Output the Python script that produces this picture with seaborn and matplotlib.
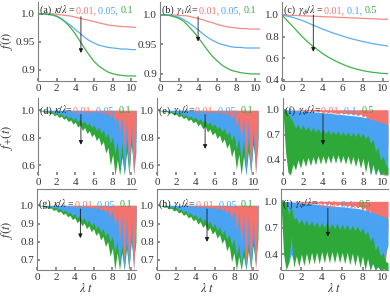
import numpy as np
import pandas as pd
import matplotlib
matplotlib.use('Agg')
import matplotlib.pyplot as plt
import matplotlib.transforms as mtransforms
import seaborn as sns

# ── Style ─────────────────────────────────────────────────────────────────────
sns.set_theme(style='ticks')
plt.rcParams.update({
    'font.family': ['Liberation Serif', 'DejaVu Serif'],
    'mathtext.fontset': 'stix',
    'axes.edgecolor': '#808080',
    'axes.linewidth': 0.8,
    'xtick.color': '#808080',
    'ytick.color': '#808080',
    'xtick.labelcolor': '#333333',
    'ytick.labelcolor': '#333333',
    'xtick.direction': 'in',
    'ytick.direction': 'in',
    'xtick.major.size': 2,
    'ytick.major.size': 2,
    'xtick.labelsize': 8,
    'ytick.labelsize': 8,
})

RED, BLUE, GREEN = '#F4736E', '#4AA3F2', '#2FA83A'
LRED, LBLUE, LGREEN = '#F48A85', '#5CADF5', '#3DB34A'

# ── Top row: smooth fidelity curves (t step 0.5) ─────────────────────────────
t_smooth = [0, 0.5, 1, 1.5, 2, 2.5, 3, 3.5, 4, 4.5, 5, 5.5, 6, 6.5, 7, 7.5,
            8, 8.5, 9, 9.5, 10, 10.5]

a_red = [1.0, 1.0, 1.0, 1.0, 0.999, 0.998, 0.997, 0.996, 0.994, 0.992, 0.990,
         0.988, 0.986, 0.984, 0.982, 0.980, 0.979, 0.978, 0.977, 0.977, 0.976, 0.976]
a_blue = [1.0, 1.0, 0.999, 0.998, 0.995, 0.991, 0.985, 0.979, 0.972, 0.965, 0.958,
          0.952, 0.948, 0.944, 0.942, 0.940, 0.939, 0.938, 0.937, 0.937, 0.936, 0.936]
a_green = [1.0, 1.0, 0.999, 0.998, 0.996, 0.991, 0.984, 0.975, 0.964, 0.951, 0.938,
           0.926, 0.915, 0.907, 0.901, 0.896, 0.893, 0.891, 0.890, 0.889, 0.889, 0.889]

b_red = [1.0, 1.0, 1.0, 1.0, 0.999, 0.999, 0.998, 0.996, 0.994, 0.992, 0.989,
         0.987, 0.984, 0.982, 0.980, 0.979, 0.978, 0.977, 0.977, 0.976, 0.976, 0.976]
b_blue = [1.0, 1.0, 1.0, 0.998, 0.996, 0.992, 0.987, 0.981, 0.975, 0.968, 0.962,
          0.957, 0.953, 0.950, 0.948, 0.946, 0.945, 0.945, 0.944, 0.944, 0.944, 0.944]
b_green = [1.0, 1.0, 0.999, 0.997, 0.994, 0.989, 0.981, 0.972, 0.962, 0.951, 0.940,
           0.930, 0.922, 0.915, 0.910, 0.906, 0.904, 0.902, 0.901, 0.900, 0.900, 0.900]

c_red = [1.0, 0.999, 0.997, 0.995, 0.993, 0.991, 0.989, 0.987, 0.985, 0.983, 0.981,
         0.979, 0.977, 0.975, 0.973, 0.971, 0.969, 0.967, 0.965, 0.963, 0.961, 0.960]
c_blue = [1.0, 0.99, 0.98, 0.965, 0.95, 0.93, 0.91, 0.89, 0.87, 0.853, 0.835,
          0.82, 0.805, 0.79, 0.778, 0.766, 0.755, 0.745, 0.735, 0.727, 0.72, 0.713]
c_green = [1.0, 0.95, 0.9, 0.85, 0.8, 0.755, 0.715, 0.68, 0.645, 0.615, 0.59,
           0.565, 0.545, 0.525, 0.51, 0.497, 0.486, 0.477, 0.47, 0.465, 0.46, 0.457]

# ── Oscillating rows: lower envelopes (t step 0.25) ──────────────────────────
t_fill = np.arange(43) * 0.25

d_red = [1.0, 1.0, 1.0, 1.0, 1.0, 0.999, 1.0, 0.999, 1.0,
         0.998, 1.0, 0.998, 0.999, 0.997, 0.999, 0.996, 0.998,
         0.995, 0.998, 0.993, 0.997, 0.991, 0.995, 0.988, 0.993,
         0.984, 0.99, 0.978, 0.986, 0.97, 0.982, 0.955, 0.975,
         0.92, 0.96, 0.84, 0.95, 0.72, 0.93, 0.53, 0.92,
         0.53, 0.9]
d_blue = [1.0, 1.0, 0.998, 0.995, 0.997, 0.988, 0.993, 0.978, 0.986,
          0.968, 0.978, 0.955, 0.967, 0.944, 0.957, 0.932, 0.946,
          0.92, 0.935, 0.907, 0.922, 0.893, 0.908, 0.875, 0.893,
          0.856, 0.876, 0.835, 0.857, 0.805, 0.835, 0.76, 0.81,
          0.68, 0.78, 0.58, 0.77, 0.53, 0.8, 0.53, 0.82,
          0.53, 0.7]
d_green = [1.0, 0.995, 0.995, 0.985, 0.99, 0.975, 0.98, 0.962, 0.97,
           0.948, 0.958, 0.935, 0.945, 0.918, 0.93, 0.9, 0.915,
           0.878, 0.895, 0.855, 0.875, 0.832, 0.852, 0.808, 0.83,
           0.78, 0.805, 0.745, 0.775, 0.69, 0.73, 0.6, 0.68,
           0.53, 0.64, 0.53, 0.66, 0.53, 0.7, 0.53, 0.75,
           0.6, 0.8]

e_red = [1.0, 1.0, 1.0, 1.0, 1.0, 0.999, 1.0, 0.999, 1.0,
         0.998, 1.0, 0.998, 0.999, 0.997, 0.999, 0.996, 0.998,
         0.995, 0.998, 0.993, 0.997, 0.99, 0.995, 0.987, 0.993,
         0.982, 0.99, 0.975, 0.986, 0.965, 0.98, 0.94, 0.975,
         0.88, 0.96, 0.78, 0.95, 0.65, 0.94, 0.53, 0.92,
         0.53, 0.9]
e_blue = [1.0, 1.0, 0.998, 0.996, 0.998, 0.99, 0.994, 0.981, 0.988,
          0.971, 0.98, 0.96, 0.97, 0.949, 0.96, 0.937, 0.95,
          0.925, 0.94, 0.913, 0.928, 0.9, 0.915, 0.885, 0.9,
          0.867, 0.885, 0.847, 0.868, 0.82, 0.848, 0.78, 0.825,
          0.72, 0.8, 0.63, 0.79, 0.53, 0.8, 0.53, 0.82,
          0.55, 0.75]
e_green = [1.0, 0.996, 0.996, 0.987, 0.991, 0.978, 0.983, 0.966, 0.973,
           0.953, 0.962, 0.94, 0.95, 0.925, 0.937, 0.908, 0.922,
           0.888, 0.904, 0.866, 0.885, 0.843, 0.864, 0.82, 0.842,
           0.795, 0.82, 0.765, 0.793, 0.725, 0.76, 0.66, 0.72,
           0.57, 0.68, 0.53, 0.67, 0.53, 0.7, 0.55, 0.75,
           0.62, 0.8]

f_red = [1.0, 1.0, 1.0, 0.998, 0.995, 0.998, 0.99, 0.996, 0.986,
         0.994, 0.982, 0.99, 0.977, 0.987, 0.972, 0.984, 0.968,
         0.98, 0.963, 0.977, 0.958, 0.973, 0.953, 0.968, 0.948,
         0.963, 0.943, 0.958, 0.937, 0.953, 0.93, 0.948, 0.915,
         0.93, 0.82, 0.9, 0.6, 0.86, 0.3, 0.85, 0.22,
         0.22, 0.6]
f_blue_top = [1.0, 1.0, 0.998, 0.996, 0.994, 0.992, 0.99, 0.987, 0.985,
              0.982, 0.98, 0.977, 0.975, 0.972, 0.97, 0.967, 0.964,
              0.961, 0.958, 0.955, 0.952, 0.949, 0.946, 0.943, 0.94,
              0.937, 0.934, 0.931, 0.928, 0.925, 0.921, 0.917, 0.912,
              0.905, 0.898, 0.89, 0.88, 0.87, 0.86, 0.85, 0.84,
              0.83, 0.82]
f_blue = [1.0, 0.85, 0.6, 0.45, 0.42, 0.38, 0.45, 0.38, 0.46,
          0.38, 0.47, 0.38, 0.47, 0.39, 0.48, 0.39, 0.48,
          0.39, 0.48, 0.4, 0.49, 0.4, 0.49, 0.4, 0.48,
          0.39, 0.48, 0.38, 0.47, 0.36, 0.46, 0.34, 0.45,
          0.3, 0.4, 0.22, 0.35, 0.22, 0.3, 0.22, 0.25,
          0.22, 0.3]
f_green_top = [1.0, 1.0, 0.95, 0.9, 0.85, 0.78, 0.83, 0.76, 0.82,
               0.75, 0.8, 0.74, 0.79, 0.73, 0.78, 0.72, 0.77,
               0.71, 0.76, 0.7, 0.75, 0.7, 0.75, 0.69, 0.74,
               0.69, 0.74, 0.68, 0.73, 0.68, 0.73, 0.67, 0.72,
               0.65, 0.7, 0.6, 0.65, 0.5, 0.55, 0.4, 0.45,
               0.35, 0.3]
f_green = [1.0, 0.5, 0.25, 0.22, 0.35, 0.28, 0.4, 0.3, 0.42,
           0.32, 0.43, 0.33, 0.44, 0.34, 0.45, 0.35, 0.45,
           0.35, 0.45, 0.36, 0.46, 0.36, 0.46, 0.36, 0.45,
           0.35, 0.45, 0.34, 0.44, 0.32, 0.43, 0.3, 0.42,
           0.25, 0.4, 0.22, 0.35, 0.22, 0.3, 0.22, 0.25,
           0.22, 0.22]

g_red = [1.0, 1.0, 1.0, 1.0, 1.0, 0.999, 1.0, 0.999, 1.0,
         0.998, 1.0, 0.998, 0.999, 0.997, 0.999, 0.996, 0.998,
         0.995, 0.998, 0.993, 0.997, 0.99, 0.995, 0.986, 0.993,
         0.98, 0.99, 0.972, 0.985, 0.96, 0.98, 0.935, 0.975,
         0.89, 0.965, 0.8, 0.95, 0.7, 0.94, 0.645, 0.93,
         0.645, 0.93]
g_blue = [1.0, 1.0, 0.999, 0.997, 0.998, 0.992, 0.995, 0.985, 0.99,
          0.976, 0.983, 0.966, 0.975, 0.955, 0.965, 0.943, 0.955,
          0.931, 0.944, 0.918, 0.932, 0.905, 0.92, 0.89, 0.906,
          0.873, 0.89, 0.855, 0.873, 0.832, 0.853, 0.8, 0.83,
          0.745, 0.8, 0.68, 0.79, 0.645, 0.8, 0.645, 0.83,
          0.645, 0.9]
g_green = [1.0, 0.997, 0.997, 0.99, 0.992, 0.982, 0.986, 0.972, 0.978,
           0.962, 0.968, 0.95, 0.957, 0.937, 0.945, 0.922, 0.932,
           0.905, 0.918, 0.888, 0.903, 0.872, 0.888, 0.855, 0.872,
           0.835, 0.853, 0.81, 0.83, 0.775, 0.8, 0.72, 0.765,
           0.645, 0.74, 0.645, 0.74, 0.645, 0.76, 0.645, 0.8,
           0.7, 0.8]

h_red = [1.0, 1.0, 1.0, 1.0, 1.0, 0.999, 1.0, 0.999, 1.0,
         0.998, 1.0, 0.997, 0.999, 0.996, 0.999, 0.995, 0.998,
         0.993, 0.997, 0.991, 0.996, 0.988, 0.994, 0.984, 0.992,
         0.978, 0.989, 0.97, 0.984, 0.955, 0.978, 0.925, 0.972,
         0.87, 0.965, 0.78, 0.955, 0.68, 0.945, 0.645, 0.935,
         0.645, 0.93]
h_blue = [1.0, 1.0, 0.999, 0.996, 0.998, 0.991, 0.994, 0.983, 0.989,
          0.974, 0.981, 0.963, 0.972, 0.951, 0.962, 0.938, 0.951,
          0.925, 0.94, 0.911, 0.927, 0.897, 0.914, 0.881, 0.899,
          0.863, 0.882, 0.842, 0.864, 0.815, 0.842, 0.78, 0.818,
          0.725, 0.79, 0.66, 0.78, 0.645, 0.79, 0.645, 0.82,
          0.66, 0.88]
h_green = [1.0, 0.997, 0.996, 0.989, 0.991, 0.98, 0.984, 0.969, 0.975,
           0.958, 0.965, 0.945, 0.953, 0.931, 0.94, 0.915, 0.926,
           0.897, 0.911, 0.879, 0.895, 0.861, 0.878, 0.842, 0.86,
           0.82, 0.84, 0.792, 0.815, 0.75, 0.78, 0.69, 0.74,
           0.645, 0.72, 0.645, 0.72, 0.645, 0.75, 0.645, 0.78,
           0.68, 0.82]

i_red = [1.0, 1.0, 1.0, 0.998, 0.995, 0.997, 0.99, 0.995, 0.985,
         0.993, 0.98, 0.99, 0.975, 0.987, 0.97, 0.984, 0.966,
         0.98, 0.96, 0.976, 0.955, 0.972, 0.95, 0.967, 0.945,
         0.962, 0.94, 0.957, 0.935, 0.952, 0.925, 0.945, 0.9,
         0.935, 0.8, 0.9, 0.55, 0.86, 0.25, 0.85, 0.22,
         0.3, 0.7]
i_blue_top = [1.0, 1.0, 0.998, 0.996, 0.994, 0.991, 0.989, 0.986, 0.984,
              0.981, 0.978, 0.976, 0.973, 0.97, 0.967, 0.964, 0.961,
              0.958, 0.955, 0.952, 0.949, 0.946, 0.943, 0.94, 0.937,
              0.934, 0.931, 0.928, 0.925, 0.922, 0.918, 0.914, 0.908,
              0.9, 0.89, 0.88, 0.87, 0.86, 0.85, 0.84, 0.83,
              0.82, 0.8]
i_blue = [1.0, 0.85, 0.5, 0.3, 0.4, 0.32, 0.42, 0.33, 0.44,
          0.34, 0.45, 0.35, 0.46, 0.36, 0.47, 0.37, 0.47,
          0.37, 0.47, 0.38, 0.48, 0.38, 0.48, 0.38, 0.47,
          0.37, 0.47, 0.36, 0.46, 0.34, 0.45, 0.3, 0.42,
          0.26, 0.38, 0.22, 0.3, 0.22, 0.26, 0.22, 0.3,
          0.4, 0.5]
i_green_top = [1.0, 1.0, 0.98, 0.85, 0.95, 0.8, 0.82, 0.74, 0.8,
               0.73, 0.79, 0.72, 0.78, 0.71, 0.77, 0.7, 0.76,
               0.7, 0.76, 0.69, 0.75, 0.69, 0.75, 0.68, 0.74,
               0.68, 0.74, 0.67, 0.73, 0.67, 0.72, 0.65, 0.7,
               0.62, 0.66, 0.55, 0.6, 0.45, 0.5, 0.38, 0.42,
               0.32, 0.3]
i_green = [1.0, 0.4, 0.22, 0.3, 0.6, 0.25, 0.38, 0.26, 0.4,
           0.27, 0.41, 0.28, 0.42, 0.29, 0.42, 0.29, 0.43,
           0.3, 0.43, 0.3, 0.43, 0.3, 0.43, 0.3, 0.42,
           0.29, 0.42, 0.28, 0.41, 0.27, 0.4, 0.25, 0.38,
           0.22, 0.35, 0.22, 0.3, 0.22, 0.26, 0.22, 0.24,
           0.22, 0.22]

# ── Figure / axes laid out in pixels (390 x 298) ─────────────────────────────
W, H = 390, 298
fig = plt.figure(figsize=(W / 100, H / 100), dpi=100)
renderer = fig.canvas.get_renderer()


def add_ax(left, top, right, bottom):
    return fig.add_axes([left / W, 1 - bottom / H, (right - left) / W, (bottom - top) / H])


rows = [(2, 81), (98, 175), (189, 270)]
cols = [[(38, 136), (160, 260), (282, 388)],
        [(38, 136), (157, 258), (283, 388)],
        [(37, 136), (157, 258), (281, 388)]]
axes = [[add_ax(c[0], r[0], c[1], r[1]) for c in cols[k]] for k, r in enumerate(rows)]


def colored_label(ax, y, parts, fs=7.2, x=0.02):
    # place text pieces one after another, each in its own colour
    x_off = 0
    for s, c in parts:
        tr = mtransforms.offset_copy(ax.transAxes, fig=fig, x=x_off, y=0, units='dots')
        txt = ax.text(x, y, s, color=c, transform=tr, fontsize=fs, va='baseline', zorder=5)
        x_off += txt.get_window_extent(renderer).width


def arrow(ax, x, y0, y1):
    ax.annotate('', xy=(x, y1), xytext=(x, y0),
                arrowprops=dict(arrowstyle='-|>', lw=0.6, color='k', mutation_scale=6,
                                shrinkA=0, shrinkB=0), zorder=6)


def style(ax, ylim, yticks, ylabels, spines=('left', 'bottom')):
    ax.set_xlim(0, 10.5)
    ax.set_ylim(*ylim)
    ax.set_xticks([0, 2, 4, 6, 8, 10])
    ax.set_yticks(yticks)
    ax.set_yticklabels(ylabels)
    ax.tick_params(pad=2)
    for side in ['left', 'right', 'top', 'bottom']:
        ax.spines[side].set_visible(side in spines)
    ax.set_xlabel('')
    ax.set_ylabel('')
    ax.set_facecolor('white')


# ── Row 1 ─────────────────────────────────────────────────────────────────────
top_sets = [(a_red, a_blue, a_green), (b_red, b_blue, b_green), (c_red, c_blue, c_green)]
for ax, (r, b, g) in zip(axes[0], top_sets):
    df = pd.DataFrame({'t': t_smooth * 3,
                       'f': r + b + g,
                       's': ['r'] * len(r) + ['b'] * len(b) + ['g'] * len(g)})
    sns.lineplot(data=df, x='t', y='f', hue='s', palette={'r': LRED, 'b': LBLUE, 'g': LGREEN},
                 linewidth=0.9, legend=False, ax=ax)

style(axes[0][0], (0.88, 1.021), [0.9, 0.95, 1.0], ['0.9', '0.95', '1.0'])
style(axes[0][1], (0.888, 1.022), [0.9, 0.95, 1.0], ['0.9', '0.95', '1.0'])
style(axes[0][2], (0.39, 1.12), [0.4, 0.6, 0.8, 1.0], ['0.4', '0.6', '0.8', '1.0'])

# ── Rows 2 and 3: filled oscillations ────────────────────────────────────────
fill_sets = [
    (axes[1][0], d_red, d_blue, None, d_green, None),
    (axes[1][1], e_red, e_blue, None, e_green, None),
    (axes[1][2], f_red, f_blue, f_blue_top, f_green, f_green_top),
    (axes[2][0], g_red, g_blue, None, g_green, None),
    (axes[2][1], h_red, h_blue, None, h_green, None),
    (axes[2][2], i_red, i_blue, i_blue_top, i_green, i_green_top),
]
for ax, r, b, b_top, g, g_top in fill_sets:
    ones = np.ones(len(t_fill))
    if b_top is None:
        # layered: green at the bottom, blue over it, red on top
        ax.fill_between(t_fill, g, ones, color=GREEN, lw=0, zorder=1)
        ax.fill_between(t_fill, b, ones, color=BLUE, lw=0, zorder=2)
        ax.fill_between(t_fill, r, ones, color=RED, lw=0, zorder=3)
    else:
        ax.fill_between(t_fill, r, ones, color=RED, lw=0, zorder=1)
        ax.fill_between(t_fill, b, b_top, color=BLUE, lw=0, zorder=2)
        ax.fill_between(t_fill, g, g_top, color=GREEN, lw=0, zorder=3)

style(axes[1][0], (0.53, 1.09), [0.6, 0.8, 1.0], ['0.6', '0.8', '1.0'], spines=('left',))
style(axes[1][1], (0.53, 1.09), [0.6, 0.8, 1.0], ['0.6', '0.8', '1.0'], spines=('left',))
style(axes[1][2], (0.22, 1.14), [0.4, 0.7, 1.0], ['0.4', '0.7', '1.0'], spines=('left',))
for ax in axes[2][:2]:
    style(ax, (0.645, 1.09), [0.7, 0.8, 0.9, 1.0], ['0.7', '0.8', '0.9', '1.0'],
          spines=('left', 'bottom', 'top'))
style(axes[2][2], (0.22, 1.14), [0.4, 0.7, 1.0], ['0.4', '0.7', '1.0'],
      spines=('left', 'bottom', 'top'))
for ax in axes[2]:
    ax.set_xlabel(r'$\lambda\ t$', fontsize=9, labelpad=0, color='#333333')

# ── Panel labels ─────────────────────────────────────────────────────────────
kap = r'$\kappa/\lambda$'
g1 = r'$\gamma_1/\lambda$'
gp = r'$\gamma_\phi/\lambda$'
labels = [
    (axes[0][0], 0.86, '(a) ', kap + ' = ', ['0.01, ', '0.05, ', '0.1']),
    (axes[0][1], 0.86, '(b) ', g1 + '=', ['0.01, ', '0.05, ', '0.1']),
    (axes[0][2], 0.86, '(c) ', gp + ' = ', ['0.01, ', '0.1, ', '0.5']),
    (axes[1][0], 0.8, '(d) ', kap + '=', ['0.01, ', '0.05, ', '0.1']),
    (axes[1][1], 0.8, '(e) ', g1 + '=', ['0.01, ', '0.05, ', '0.1']),
    (axes[1][2], 0.8, '(f) ', gp + '=', ['0.01, ', '0.1, ', '0.5']),
    (axes[2][0], 0.78, '(g) ', kap + ' =', ['0.01, ', '0.05, ', '0.1']),
    (axes[2][1], 0.78, '(h) ', g1 + '=', ['0.01, ', '0.05, ', '0.1']),
    (axes[2][2], 0.78, '(i) ', gp + '=', ['0.01, ', '0.1, ', '0.5']),
]
for ax, y, tag, sym, vals in labels:
    colored_label(ax, y, [(tag, '#222222'), (sym, '#222222'),
                          (vals[0], RED), (vals[1], BLUE), (vals[2], GREEN)])

# arrows pointing towards increasing rate, starting just under the labels
arrow(axes[0][0], 4.6, 0.995, 0.93)
arrow(axes[0][1], 4.0, 0.997, 0.955)
arrow(axes[0][2], 3.1, 1.0, 0.66)
arrow(axes[1][0], 4.6, 0.97, 0.75)
arrow(axes[1][1], 5.0, 0.97, 0.72)
arrow(axes[1][2], 4.0, 0.95, 0.58)
arrow(axes[2][0], 4.6, 0.98, 0.82)
arrow(axes[2][1], 5.2, 0.98, 0.8)
arrow(axes[2][2], 4.6, 0.92, 0.6)

# y labels
for yc, lab in [(41, r'$f(t)$'), (137, r'$f_{+}(t)$'), (230, r'$f(t)$')]:
    fig.text(7 / W, 1 - yc / H, lab, rotation=90, fontsize=9, va='center', ha='center',
             color='#333333')

fig.savefig('out.png', dpi=100)
